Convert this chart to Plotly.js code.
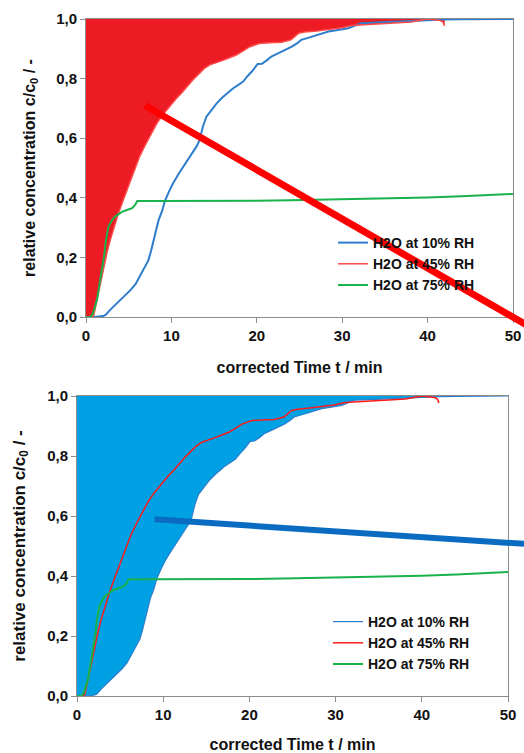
<!DOCTYPE html>
<html>
<head>
<meta charset="utf-8">
<script src="https://cdn.plot.ly/plotly-3.0.1.min.js"></script>
<style>html,body{margin:0;padding:0;background:#fff;}#chart{width:524px;height:753px;}</style>
</head>
<body>
<div id="chart"></div>
<script>
// ---- data ----
const time10 = [0, 1, 2.0, 2.3, 2.8, 3.4, 4.0, 4.6, 5.2, 5.8, 6.3, 6.8, 7.3, 7.6, 7.9, 8.2, 8.5, 8.9, 9.25, 9.7, 10.2, 10.8, 11.4, 12.0, 12.6, 13.0, 13.3, 13.7, 14.1, 14.7, 15.3, 15.9, 16.5, 17.2, 17.8, 18.4, 18.9, 19.4, 20.1, 20.6, 21.2, 21.7, 22.3, 22.9, 23.5, 24.1, 24.7, 25.2, 25.8, 26.4, 27.4, 28.4, 29.5, 30.7, 31.5, 32.2, 34, 36.1, 38, 40, 42, 44, 46, 48, 50];
const c10 = [0, 0, 0.003, 0.007, 0.023, 0.04, 0.057, 0.072, 0.09, 0.11, 0.135, 0.16, 0.19, 0.22, 0.258, 0.29, 0.325, 0.355, 0.39, 0.42, 0.449, 0.478, 0.504, 0.53, 0.56, 0.575, 0.594, 0.64, 0.672, 0.695, 0.717, 0.735, 0.751, 0.767, 0.778, 0.79, 0.808, 0.823, 0.849, 0.85, 0.862, 0.874, 0.882, 0.89, 0.898, 0.907, 0.918, 0.93, 0.935, 0.94, 0.95, 0.958, 0.963, 0.969, 0.978, 0.986, 0.988, 0.991, 0.994, 0.997, 0.998, 0.999, 1.0, 1.0, 1.0];

const time45 = [0, 0.6, 0.9, 1.2, 1.47, 1.75, 2.05, 2.45, 2.84, 3.3, 3.8, 4.3, 4.8, 5.25, 5.75, 6.3, 6.9, 7.6, 8.3, 8.9, 9.45, 10.0, 10.6, 11.2, 11.8, 12.5, 13.3, 13.9, 14.5, 15.3, 16.1, 16.8, 17.6, 18.4, 19.2, 20.3, 20.6, 21.5, 22.9, 24.0, 24.9, 25.6, 27.0, 28.4, 29.8, 31.1, 32.5, 34.2, 36, 38.1, 40, 40.8, 41.5, 41.8, 42];
const c45 = [0, 0, 0.004, 0.045, 0.09, 0.13, 0.169, 0.215, 0.258, 0.303, 0.348, 0.388, 0.426, 0.465, 0.504, 0.54, 0.575, 0.615, 0.65, 0.675, 0.695, 0.715, 0.734, 0.752, 0.773, 0.795, 0.818, 0.835, 0.846, 0.853, 0.862, 0.87, 0.879, 0.893, 0.907, 0.918, 0.919, 0.92, 0.922, 0.93, 0.952, 0.956, 0.96, 0.965, 0.97, 0.978, 0.98, 0.984, 0.987, 0.99, 1.0, 0.998, 0.995, 0.99, 0.977];

const time75 = [0, 0.5, 0.8, 1.09, 1.3, 1.47, 1.67, 1.87, 2.02, 2.17, 2.3, 2.45, 2.6, 2.84, 3.1, 3.4, 3.8, 4.2, 4.8, 5.4, 5.75, 6.0, 8, 12, 16, 20, 24, 28, 32, 36.3, 40, 44, 48, 50];
const c75 = [0, 0, 0.01, 0.035, 0.06, 0.09, 0.125, 0.158, 0.185, 0.214, 0.25, 0.281, 0.3, 0.314, 0.327, 0.337, 0.346, 0.353, 0.359, 0.365, 0.376, 0.389, 0.389, 0.389, 0.389, 0.39, 0.392, 0.394, 0.396, 0.398, 0.401, 0.405, 0.41, 0.413];

const seriesNames = ['H2O at 10% RH', 'H2O at 45% RH', 'H2O at 75% RH'];

// trend arrows drawn over each panel (data units)
const trendTopX = [6.9, 53];
const trendTopY = [0.71, -0.05];
const trendBotX = [9.0, 53];
const trendBotY = [0.589, 0.505];

const xRange = [0, 50];
const yRange = [0, 1];
const fillTop = yRange[1];

// ---- styling ----
const cBlue = '#2d7dcc', cRed = '#ff1a1a', cGreen = '#19b24b';
const font = {family: 'Liberation Sans, Arial, sans-serif', color: '#111', weight: 'bold'};

function areaAbove(xs, ys) {
  return {
    x: xs.concat(xs.slice().reverse()),
    y: ys.concat(xs.map(() => fillTop))
  };
}

const redArea = areaAbove(time45, c45);
const blueArea = areaAbove(time10, c10);

const traces = [
  // top panel
  {x: redArea.x, y: redArea.y, xaxis: 'x', yaxis: 'y', type: 'scatter', mode: 'lines', fill: 'toself',
   fillcolor: '#ed1c24', line: {width: 0}, hoverinfo: 'skip', showlegend: false},
  {x: time10, y: c10, xaxis: 'x', yaxis: 'y', name: seriesNames[0], mode: 'lines', line: {color: cBlue, width: 2}, legend: 'legend', legendgroup: 'a'},
  {x: time45, y: c45, xaxis: 'x', yaxis: 'y', name: seriesNames[1], mode: 'lines', line: {color: '#ff4a4a', width: 1.5}, legend: 'legend', legendgroup: 'b'},
  {x: time75, y: c75, xaxis: 'x', yaxis: 'y', name: seriesNames[2], mode: 'lines', line: {color: cGreen, width: 2}, legend: 'legend', legendgroup: 'c'},
  // bottom panel
  {x: blueArea.x, y: blueArea.y, xaxis: 'x2', yaxis: 'y2', type: 'scatter', mode: 'lines', fill: 'toself',
   fillcolor: '#00a1e4', line: {width: 0}, hoverinfo: 'skip', showlegend: false},
  {x: time10, y: c10, xaxis: 'x2', yaxis: 'y2', name: seriesNames[0], mode: 'lines', line: {color: cBlue, width: 1.2}, legend: 'legend2', legendgroup: 'd'},
  {x: time45, y: c45, xaxis: 'x2', yaxis: 'y2', name: seriesNames[1], mode: 'lines', line: {color: cRed, width: 1.5}, legend: 'legend2', legendgroup: 'e'},
  {x: time75, y: c75, xaxis: 'x2', yaxis: 'y2', name: seriesNames[2], mode: 'lines', line: {color: cGreen, width: 2}, legend: 'legend2', legendgroup: 'f'}
];

function dom(v, r) { return (v - r[0]) / (r[1] - r[0]); }

const W = 524, H = 753;
function axisX(domain, anchor) {
  return {
    domain: domain, anchor: anchor, range: xRange, dtick: 10, tick0: 0,
    ticks: 'outside', ticklen: 5, tickcolor: '#8c8c8c', tickwidth: 1,
    showline: true, linecolor: '#8c8c8c', linewidth: 1, mirror: true,
    showgrid: false, zeroline: false,
    tickfont: Object.assign({size: 15}, font),
    title: {text: 'corrected Time t / min', font: Object.assign({size: 16}, font), standoff: 18}
  };
}
function axisY(domain, anchor, tsize, standoff) {
  return {
    domain: domain, anchor: anchor, range: yRange, dtick: 0.2, tick0: 0, tickformat: '.1f',
    ticks: 'outside', ticklen: 5, tickcolor: '#8c8c8c', tickwidth: 1,
    showline: true, linecolor: '#8c8c8c', linewidth: 1, mirror: true,
    showgrid: false, zeroline: false,
    tickfont: Object.assign({size: 15}, font),
    title: {text: 'relative concentration c/c<sub>0</sub> / -', font: Object.assign({size: tsize}, font), standoff: standoff}
  };
}

const layout = {
  width: W, height: H,
  margin: {l: 0, r: 0, t: 0, b: 0},
  paper_bgcolor: '#fff', plot_bgcolor: '#fff',
  separators: ',.',
  font: font,
  xaxis: axisX([86 / W, 513 / W], 'y'),
  yaxis: axisY([1 - 317 / H, 1 - 19 / H], 'x', 16, 16),
  xaxis2: axisX([77 / W, 508 / W], 'y2'),
  yaxis2: axisY([1 - 696 / H, 1 - 396 / H], 'x2', 17, 17),
  legend: {x: 333 / W, y: 1 - 227 / H, xanchor: 'left', yanchor: 'top', bgcolor: 'rgba(0,0,0,0)',
           font: Object.assign({size: 14}, font), tracegroupgap: 0, itemwidth: 30},
  legend2: {x: 328 / W, y: 1 - 606 / H, xanchor: 'left', yanchor: 'top', bgcolor: 'rgba(0,0,0,0)',
            font: Object.assign({size: 14}, font), tracegroupgap: 0, itemwidth: 30},
  shapes: [
    {type: 'line', layer: 'above', xref: 'x domain', yref: 'y domain',
     x0: dom(trendTopX[0], xRange), y0: dom(trendTopY[0], yRange),
     x1: dom(trendTopX[1], xRange), y1: dom(trendTopY[1], yRange),
     line: {color: '#ff0000', width: 7}},
    {type: 'line', layer: 'above', xref: 'x2 domain', yref: 'y2 domain',
     x0: dom(trendBotX[0], xRange), y0: dom(trendBotY[0], yRange),
     x1: dom(trendBotX[1], xRange), y1: dom(trendBotY[1], yRange),
     line: {color: '#0a6cc0', width: 6}}
  ],
  showlegend: true
};

Plotly.newPlot('chart', traces, layout, {displayModeBar: false, staticPlot: true});
</script>
</body>
</html>
